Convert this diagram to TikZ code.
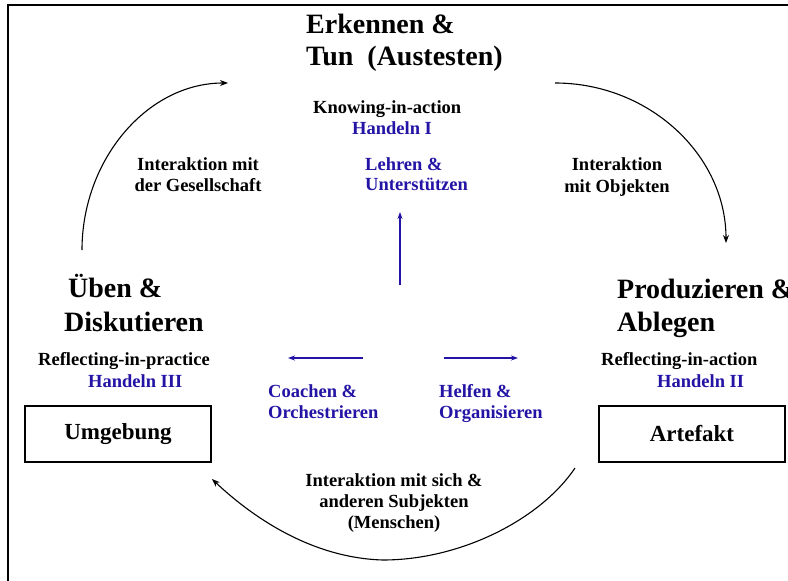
\documentclass[tikz,border=0pt]{standalone}
\usepackage{fontspec}
\setmainfont{Liberation Serif}
\usetikzlibrary{arrows.meta}
\definecolor{hblue}{RGB}{35,20,165}
\begin{document}
\begin{tikzpicture}[x=1pt,y=-1pt,
  txt/.style={font=\fontsize{18.5}{22}\selectfont\bfseries, inner sep=0pt, anchor=base west},
  ctxt/.style={txt, anchor=base},
  big/.style={font=\fontsize{28}{32}\selectfont\bfseries, inner sep=0pt, anchor=base west},
  btxt/.style={txt, text=hblue},
  boxnode/.style={draw, line width=1.2pt, minimum width=186pt, minimum height=56pt, inner sep=0pt,
    font=\fontsize{23}{26}\selectfont\bfseries},
  cyc/.style={line width=1.1pt, -{Stealth[length=8pt,width=6pt]}},
  barrow/.style={draw=hblue, line width=1.2pt, -{Stealth[length=7pt,width=5pt]}}]
\useasboundingbox (0,0) rectangle (788,581);
\fill[white] (0,0) rectangle (788,581);
% frame
\draw[line width=1.5pt] (788,5) -- (8,5) -- (8,581);
% headings
\node[big] (erk1) at (306,33) {Erkennen \&};
\node[big] (erk2) at (306,65) {Tun\ \ (Austesten)};
\node[txt] (kia) at (313,113) {Knowing-in-action};
\node[btxt] (hI) at (352,134) {Handeln I};
\node[btxt] (lehr1) at (365,170) {Lehren \&};
\node[btxt] (lehr2) at (365,190) {Unterstützen};
\node[ctxt] (ig1) at (198,170) {Interaktion mit};
\node[ctxt] (ig2) at (198,191) {der Gesellschaft};
\node[ctxt] (io1) at (617,170) {Interaktion};
\node[ctxt] (io2) at (617,192) {mit Objekten};
\node[big] (ub1) at (68,297) {Üben \&};
\node[big] (ub2) at (64,331) {Diskutieren};
\node[txt] (rip) at (38,365) {Reflecting-in-practice};
\node[btxt] (hIII) at (88,387) {Handeln III};
\node[big] (pr1) at (617,298) {Produzieren \&};
\node[big] (pr2) at (617,331) {Ablegen};
\node[txt] (ria) at (601,365) {Reflecting-in-action};
\node[btxt] (hII) at (657,387) {Handeln II};
\node[btxt] (co1) at (268,397) {Coachen \&};
\node[btxt] (co2) at (268,418) {Orchestrieren};
\node[btxt] (he1) at (439,397) {Helfen \&};
\node[btxt] (he2) at (439,418) {Organisieren};
\node[ctxt] (is1) at (394,486) {Interaktion mit sich \&};
\node[ctxt] (is2) at (394,507) {anderen Subjekten};
\node[ctxt] (is3) at (394,528) {(Menschen)};
% boxes
\node[boxnode] (umg) at (118,434) {Umgebung};
\node[boxnode] (art) at (692,434) {Artefakt};
% cycle arrows
\coordinate (tlA) at (82,250);
\coordinate (tlB) at (228,83);
\coordinate (trA) at (555,83);
\coordinate (trB) at (726,243);
\coordinate (bA) at (575,468);
\coordinate (bM) at (383,560);
\coordinate (bB) at (212,479);
\draw[cyc] (tlA) .. controls (82,160) and (147,83) .. (tlB);
\draw[cyc] (trA) .. controls (649,83) and (726,155) .. (trB);
\draw[cyc] (bA) .. controls (540,520) and (460,560) .. (bM) .. controls (310,558) and (250,515) .. (bB);
% blue arrows
\coordinate (uA) at (400,285);
\coordinate (uB) at (400,212);
\coordinate (lA) at (363,358);
\coordinate (lB) at (288,358);
\coordinate (rA) at (444,358);
\coordinate (rB) at (518,358);
\draw[barrow] (uA) -- (uB);
\draw[barrow] (lA) -- (lB);
\draw[barrow] (rA) -- (rB);
\end{tikzpicture}
\end{document}
